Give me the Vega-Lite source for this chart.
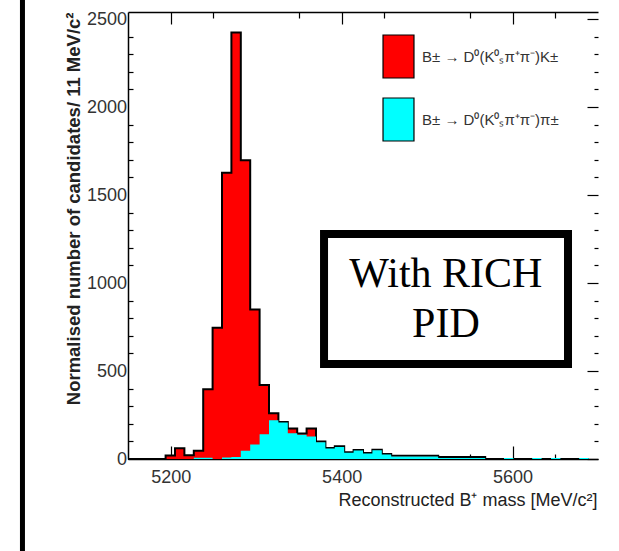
{
  "$schema": "https://vega.github.io/schema/vega-lite/v6.json",
  "width": 470,
  "height": 447,
  "autosize": {"type": "none"},
  "padding": {"left": 128, "top": 12, "right": 21, "bottom": 92},
  "background": "white",
  "config": {
    "view": {"stroke": null},
    "axis": {"labelFont": "Liberation Sans", "titleFont": "Liberation Sans", "domainColor": "black", "tickColor": "black", "grid": false, "domainWidth": 1.5, "tickWidth": 1.2, "zindex": 0}
  },
  "datasets": {
    "hist": [
      {"lo": 5150, "hi": 5161, "K": 0, "pi": 0},
      {"lo": 5161, "hi": 5172, "K": 0, "pi": 0},
      {"lo": 5172, "hi": 5183, "K": 0, "pi": 0},
      {"lo": 5183, "hi": 5194, "K": 0, "pi": 0},
      {"lo": 5194, "hi": 5205, "K": 20, "pi": 0},
      {"lo": 5205, "hi": 5216, "K": 61, "pi": 0},
      {"lo": 5216, "hi": 5227, "K": 21, "pi": 0},
      {"lo": 5227, "hi": 5238, "K": 47, "pi": 7},
      {"lo": 5238, "hi": 5249, "K": 396, "pi": 7},
      {"lo": 5249, "hi": 5260, "K": 746, "pi": 0},
      {"lo": 5260, "hi": 5271, "K": 1627, "pi": 8},
      {"lo": 5271, "hi": 5282, "K": 2424, "pi": 12},
      {"lo": 5282, "hi": 5293, "K": 1697, "pi": 47},
      {"lo": 5293, "hi": 5304, "K": 850, "pi": 82},
      {"lo": 5304, "hi": 5315, "K": 420, "pi": 140},
      {"lo": 5315, "hi": 5326, "K": 260, "pi": 220},
      {"lo": 5326, "hi": 5337, "K": 210, "pi": 207},
      {"lo": 5337, "hi": 5348, "K": 174, "pi": 146},
      {"lo": 5348, "hi": 5359, "K": 145, "pi": 138},
      {"lo": 5359, "hi": 5370, "K": 174, "pi": 128},
      {"lo": 5370, "hi": 5381, "K": 100, "pi": 95},
      {"lo": 5381, "hi": 5392, "K": 63, "pi": 60},
      {"lo": 5392, "hi": 5403, "K": 72, "pi": 68},
      {"lo": 5403, "hi": 5414, "K": 38, "pi": 35},
      {"lo": 5414, "hi": 5425, "K": 51, "pi": 48},
      {"lo": 5425, "hi": 5436, "K": 34, "pi": 31},
      {"lo": 5436, "hi": 5447, "K": 53, "pi": 50},
      {"lo": 5447, "hi": 5458, "K": 29, "pi": 26},
      {"lo": 5458, "hi": 5469, "K": 19, "pi": 14},
      {"lo": 5469, "hi": 5480, "K": 19, "pi": 14},
      {"lo": 5480, "hi": 5491, "K": 19, "pi": 14},
      {"lo": 5491, "hi": 5502, "K": 19, "pi": 14},
      {"lo": 5502, "hi": 5513, "K": 19, "pi": 14},
      {"lo": 5513, "hi": 5524, "K": 11, "pi": 6},
      {"lo": 5524, "hi": 5535, "K": 11, "pi": 6},
      {"lo": 5535, "hi": 5546, "K": 11, "pi": 6},
      {"lo": 5546, "hi": 5557, "K": 11, "pi": 6},
      {"lo": 5557, "hi": 5568, "K": 11, "pi": 6},
      {"lo": 5568, "hi": 5579, "K": 0, "pi": 0},
      {"lo": 5579, "hi": 5590, "K": 0, "pi": 0},
      {"lo": 5590, "hi": 5601, "K": 0, "pi": 6},
      {"lo": 5601, "hi": 5612, "K": 0, "pi": 0},
      {"lo": 5612, "hi": 5623, "K": 0, "pi": 0},
      {"lo": 5623, "hi": 5634, "K": 0, "pi": 6},
      {"lo": 5634, "hi": 5645, "K": 0, "pi": 0},
      {"lo": 5645, "hi": 5656, "K": 0, "pi": 6},
      {"lo": 5656, "hi": 5667, "K": 0, "pi": 0},
      {"lo": 5667, "hi": 5678, "K": 0, "pi": 0},
      {"lo": 5678, "hi": 5689, "K": 0, "pi": 6},
      {"lo": 5689, "hi": 5700, "K": 0, "pi": 0}
    ]
  },
  "resolve": {"axis": {"x": "independent", "y": "independent"}},
  "layer": [
    {
      "data": {"name": "hist"},
      "mark": {"type": "area", "interpolate": "step-after"},
      "encoding": {
        "x": {"field": "lo", "type": "quantitative", "scale": {"domain": [5150, 5700], "nice": false, "zero": false},
          "axis": {"orient": "bottom", "values": [5200, 5400, 5600], "format": "d", "tickSize": -13, "labelPadding": 22, "labelFontSize": 18, "labelColor": "#333", "labelFlush": false, "domain": true,
            "title": "Reconstructed B⁺ mass [MeV/c²]", "titleFontSize": 18, "titleFontWeight": "normal", "titleColor": "#222", "titleX": 469, "titleY": 46, "titleAlign": "right", "titleBaseline": "alphabetic"}},
        "y": {"field": "K", "type": "quantitative", "scale": {"domain": [0, 2540], "nice": false},
          "axis": {"orient": "left", "values": [0, 500, 1000, 1500, 2000, 2500], "format": "d", "ticks": false, "labelPadding": 1.5, "labelFontSize": 18, "labelColor": "#333", "domain": true,
            "title": "Normalised number of candidates/ 11 MeV/c²", "titleFontSize": 18.5, "titleFontWeight": "bold", "titleColor": "#222", "titleX": -49, "titleY": 0, "titleAngle": -90, "titleAlign": "right", "titleBaseline": "alphabetic"}},
        "color": {"datum": "B± → D⁰(K⁰ₛπ⁺π⁻)K±", "type": "nominal",
          "scale": {"domain": ["B± → D⁰(K⁰ₛπ⁺π⁻)K±", "B± → D⁰(K⁰ₛπ⁺π⁻)π±"], "range": ["#ff0000", "#00ffff"]},
          "legend": {"orient": "none", "legendX": 248, "legendY": 22, "title": null, "symbolType": "M-0.72,-1H0.72V1H-0.72Z", "symbolSize": 1849, "symbolStrokeColor": "black", "symbolStrokeWidth": 1.2, "symbolOpacity": 1, "labelFont": "Liberation Sans", "labelFontSize": 15, "labelColor": "#333", "rowPadding": 14, "labelOffset": 1, "labelLimit": 400, "padding": 0}}
      }
    },
    {
      "data": {"name": "hist"},
      "mark": {"type": "line", "interpolate": "step-after", "color": "black", "strokeWidth": 2},
      "encoding": {
        "x": {"field": "lo", "type": "quantitative", "scale": {"domain": [5150, 5700], "nice": false, "zero": false},
          "axis": {"orient": "bottom", "values": [5250, 5350, 5450, 5550, 5650], "tickSize": -5, "labels": false, "domain": false, "title": null}},
        "y": {"field": "K", "type": "quantitative", "scale": {"domain": [0, 2540], "nice": false},
          "axis": {"orient": "left", "values": [100, 200, 300, 400, 600, 700, 800, 900, 1100, 1200, 1300, 1400, 1600, 1700, 1800, 1900, 2100, 2200, 2300, 2400], "tickSize": -5, "labels": false, "domain": false, "title": null}}
      }
    },
    {
      "data": {"name": "hist"},
      "mark": {"type": "area", "interpolate": "step-after"},
      "encoding": {
        "x": {"field": "lo", "type": "quantitative", "scale": {"domain": [5150, 5700], "nice": false, "zero": false},
          "axis": {"orient": "top", "values": [5200, 5400, 5600], "tickSize": -12, "labels": false, "domain": true, "title": null}},
        "y": {"field": "pi", "type": "quantitative", "scale": {"domain": [0, 2540], "nice": false},
          "axis": {"orient": "right", "values": [0, 500, 1000, 1500, 2000, 2500], "tickSize": -11, "labels": false, "domain": false, "title": null}},
        "color": {"datum": "B± → D⁰(K⁰ₛπ⁺π⁻)π±", "type": "nominal"}
      }
    },
    {
      "data": {"values": [{}]},
      "mark": {"type": "rect", "fill": "white", "stroke": "black", "strokeWidth": 8},
      "encoding": {
        "x": {"datum": 5379.4, "type": "quantitative", "scale": {"domain": [5150, 5700], "nice": false, "zero": false},
          "axis": {"orient": "top", "values": [5250, 5350, 5450, 5550, 5650], "tickSize": -6, "labels": false, "domain": false, "title": null}},
        "x2": {"datum": 5664.9},
        "y": {"datum": 1278.5, "type": "quantitative", "scale": {"domain": [0, 2540], "nice": false},
          "axis": {"orient": "right", "values": [100, 200, 300, 400, 600, 700, 800, 900, 1100, 1200, 1300, 1400, 1600, 1700, 1800, 1900, 2100, 2200, 2300, 2400], "tickSize": -4, "labels": false, "domain": false, "title": null}},
        "y2": {"datum": 539.8}
      }
    },
    {
      "data": {"values": [{}]},
      "mark": {"type": "text", "font": "Liberation Serif", "fontSize": 42, "color": "black", "align": "center", "baseline": "alphabetic", "lineHeight": 50},
      "encoding": {
        "x": {"datum": 5522, "type": "quantitative", "scale": {"domain": [5150, 5700], "nice": false, "zero": false}, "axis": null},
        "y": {"datum": 977.4, "type": "quantitative", "scale": {"domain": [0, 2540], "nice": false}, "axis": null},
        "text": {"value": ["With RICH", "PID"]}
      }
    },
    {
      "data": {"values": [{}]},
      "mark": {"type": "rule", "color": "black", "strokeWidth": 5, "clip": false},
      "encoding": {
        "x": {"datum": 5026.5, "type": "quantitative", "scale": {"domain": [5150, 5700], "nice": false, "zero": false}, "axis": null},
        "y": {"datum": 2620, "type": "quantitative", "scale": {"domain": [0, 2540], "nice": false}, "axis": null},
        "y2": {"datum": -540}
      }
    }
  ]
}
